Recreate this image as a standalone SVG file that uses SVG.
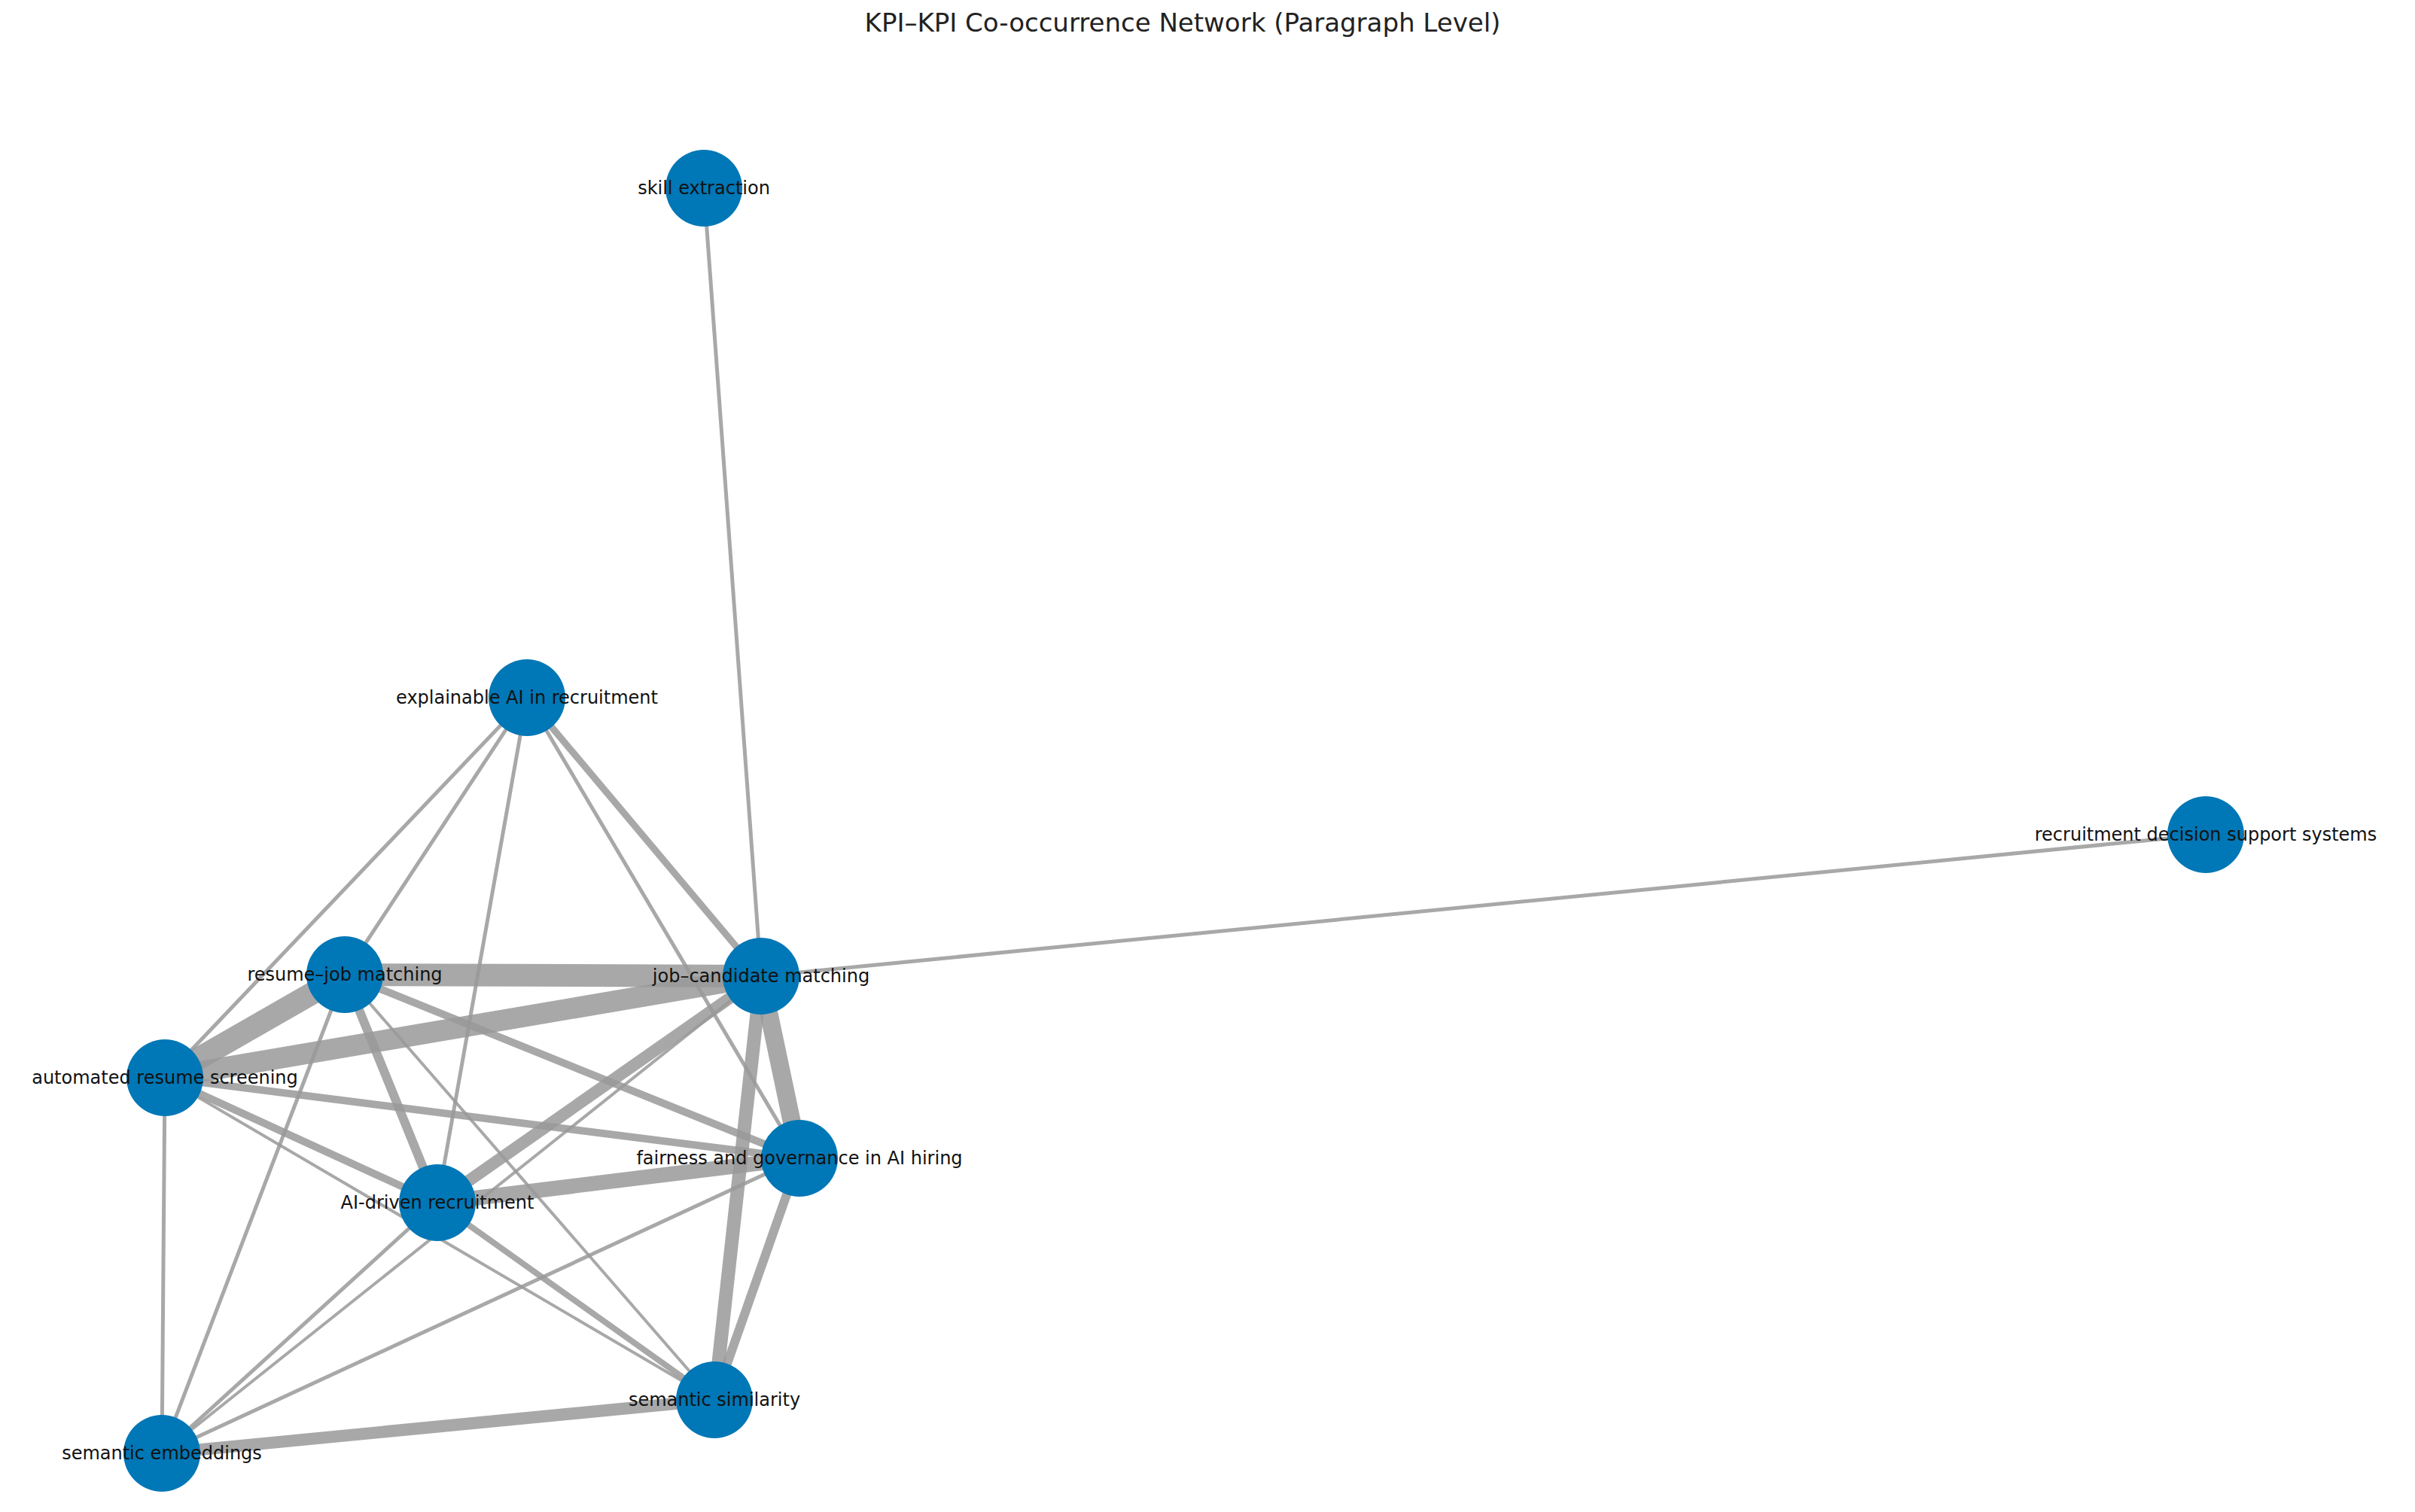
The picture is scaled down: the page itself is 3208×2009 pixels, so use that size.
<svg xmlns="http://www.w3.org/2000/svg" width="3208" height="2009" viewBox="0 0 3208 2009">
<style>
.e{stroke:#999;stroke-opacity:0.85;stroke-linecap:butt;fill:none}
.n{fill:#0077b6}
.l{font-family:"DejaVu Sans",sans-serif;font-size:24px;fill:#111;text-anchor:middle;dominant-baseline:central}
</style>
<rect width="3208" height="2009" fill="#fff"/>
<text x="1571" y="42" style="font-family:'DejaVu Sans',sans-serif;font-size:34px;fill:#222;text-anchor:middle">KPI–KPI Co-occurrence Network (Paragraph Level)</text>
<g id="edges">
<line class="e" stroke-width="5" x1="935" y1="250" x2="1011" y2="1297"/>
<line class="e" stroke-width="5" x1="2930" y1="1109" x2="1011" y2="1297"/>
<line class="e" stroke-width="5" x1="700" y1="927" x2="219" y2="1432"/>
<line class="e" stroke-width="5" x1="700" y1="927" x2="458" y2="1295"/>
<line class="e" stroke-width="5" x1="700" y1="927" x2="581" y2="1598"/>
<line class="e" stroke-width="9" x1="700" y1="927" x2="1011" y2="1297"/>
<line class="e" stroke-width="5" x1="700" y1="927" x2="1062" y2="1539"/>
<line class="e" stroke-width="30" x1="458" y1="1295" x2="1011" y2="1297"/>
<line class="e" stroke-width="30" x1="458" y1="1295" x2="219" y2="1432"/>
<line class="e" stroke-width="12" x1="458" y1="1295" x2="581" y2="1598"/>
<line class="e" stroke-width="10" x1="458" y1="1295" x2="1062" y2="1539"/>
<line class="e" stroke-width="4" x1="458" y1="1295" x2="949" y2="1860"/>
<line class="e" stroke-width="5" x1="458" y1="1295" x2="215" y2="1931"/>
<line class="e" stroke-width="28" x1="1011" y1="1297" x2="219" y2="1432"/>
<line class="e" stroke-width="16" x1="1011" y1="1297" x2="581" y2="1598"/>
<line class="e" stroke-width="24" x1="1011" y1="1297" x2="1062" y2="1539"/>
<line class="e" stroke-width="18" x1="1011" y1="1297" x2="949" y2="1860"/>
<line class="e" stroke-width="4" x1="1011" y1="1297" x2="215" y2="1931"/>
<line class="e" stroke-width="10" x1="219" y1="1432" x2="1062" y2="1539"/>
<line class="e" stroke-width="10" x1="219" y1="1432" x2="581" y2="1598"/>
<line class="e" stroke-width="4" x1="219" y1="1432" x2="949" y2="1860"/>
<line class="e" stroke-width="5" x1="219" y1="1432" x2="215" y2="1931"/>
<line class="e" stroke-width="20" x1="1062" y1="1539" x2="581" y2="1598"/>
<line class="e" stroke-width="12" x1="1062" y1="1539" x2="949" y2="1860"/>
<line class="e" stroke-width="5" x1="1062" y1="1539" x2="215" y2="1931"/>
<line class="e" stroke-width="8" x1="581" y1="1598" x2="949" y2="1860"/>
<line class="e" stroke-width="5" x1="581" y1="1598" x2="215" y2="1931"/>
<line class="e" stroke-width="16" x1="949" y1="1860" x2="215" y2="1931"/>
</g>
<g id="n-skill"><circle class="n" cx="935" cy="250" r="51"/><text class="l" x="935" y="250">skill extraction</text></g>
<g id="n-explainable"><circle class="n" cx="700" cy="927" r="51"/><text class="l" x="700" y="927">explainable AI in recruitment</text></g>
<g id="n-rdss"><circle class="n" cx="2930" cy="1109" r="51"/><text class="l" x="2930" y="1109">recruitment decision support systems</text></g>
<g id="n-resume"><circle class="n" cx="458" cy="1295" r="51"/><text class="l" x="458" y="1295">resume–job matching</text></g>
<g id="n-jobcand"><circle class="n" cx="1011" cy="1297" r="51"/><text class="l" x="1011" y="1297">job–candidate matching</text></g>
<g id="n-auto"><circle class="n" cx="219" cy="1432" r="51"/><text class="l" x="219" y="1432">automated resume screening</text></g>
<g id="n-fair"><circle class="n" cx="1062" cy="1539" r="51"/><text class="l" x="1062" y="1539">fairness and governance in AI hiring</text></g>
<g id="n-aidriven"><circle class="n" cx="581" cy="1598" r="51"/><text class="l" x="581" y="1598">AI-driven recruitment</text></g>
<g id="n-semsim"><circle class="n" cx="949" cy="1860" r="51"/><text class="l" x="949" y="1860">semantic similarity</text></g>
<g id="n-sememb"><circle class="n" cx="215" cy="1931" r="51"/><text class="l" x="215" y="1931">semantic embeddings</text></g>
</svg>
